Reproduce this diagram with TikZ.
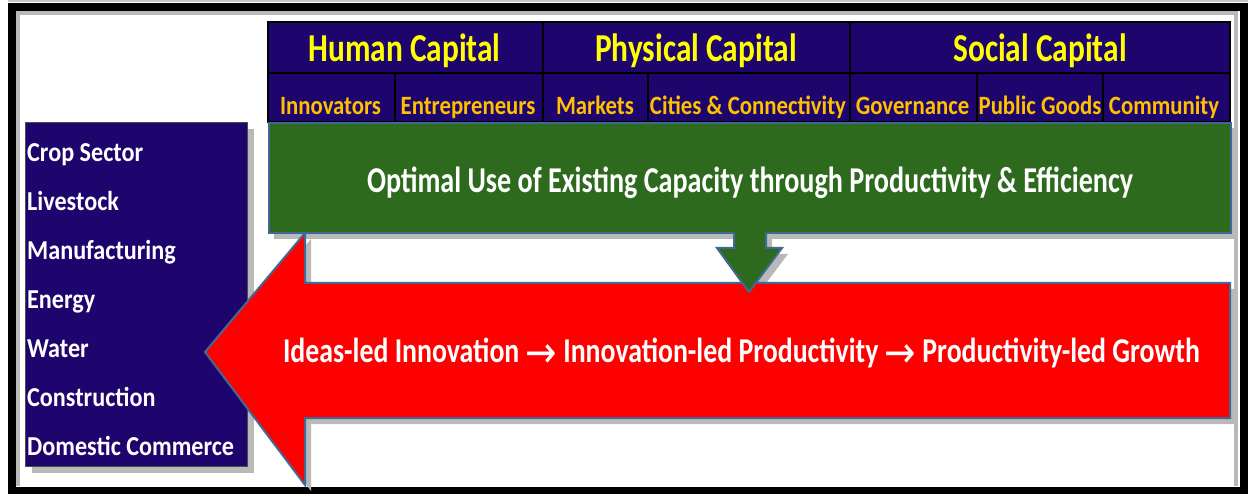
\documentclass[tikz,border=0pt]{standalone}
\usepackage{fontspec}
\setmainfont{Carlito}
\newfontfamily\arrowfont{DejaVu Sans}
\usepackage{graphicx}
\definecolor{navy}{RGB}{30,5,110}
\definecolor{hdryellow}{RGB}{255,255,0}
\definecolor{subgold}{RGB}{255,192,0}
\definecolor{grn}{RGB}{46,106,30}
\definecolor{outl}{RGB}{65,105,150}
\definecolor{shadowgray}{RGB}{185,185,185}
\newlength\tmpw
\newcommand\fitsize[3]{\settowidth\tmpw{\fontsize{10pt}{12pt}\selectfont\bfseries #3}\pgfmathsetmacro#1{10*#2/\tmpw}}
\newcommand\vtxt[2]{\scalebox{1}[#1]{#2}}
\newcommand\arr{\raisebox{-0.14em}{\scalebox{1.35}[1.25]{\arrowfont\mdseries\char"2192}}}
\begin{document}
\fitsize{\hs}{192}{Human Capital}%
\pgfmathsetmacro\hv{25/(0.632*\hs)}%
\fitsize{\ss}{101}{Innovators}%
\pgfmathsetmacro\sv{16.7/(0.632*\ss)}%
\fitsize{\gs}{766}{Optimal Use of Existing Capacity through Productivity \& Efficiency}%
\pgfmathsetmacro\gv{23/(0.632*\gs)}%
\fitsize{\rs}{917}{Ideas-led Innovation \arr{} Innovation-led Productivity \arr{} Productivity-led Growth}%
\pgfmathsetmacro\rv{22/(0.632*\rs)}%
\fitsize{\ls}{207}{Domestic Commerce}%
\pgfmathsetmacro\lv{17.3/(0.632*\ls)}%
\begin{tikzpicture}[x=1pt,y=-1pt]
\tikzset{
  hdr/.style={anchor=base, inner sep=0pt, text=hdryellow, font=\fontsize{\hs pt}{\hs pt}\selectfont\bfseries},
  sub/.style={anchor=base, inner sep=0pt, text=subgold, font=\fontsize{\ss pt}{\ss pt}\selectfont\bfseries},
  lst/.style={anchor=base west, inner sep=0pt, text=white, font=\fontsize{\ls pt}{\ls pt}\selectfont\bfseries},
  shadow/.style={fill=shadowgray, draw=none},
  cellline/.style={draw=black, line width=1.5pt},
  arrowshape/.style={draw=outl, line width=2pt, line join=miter},
}
\def\redarrow{(1230,283) -- (1230,418) -- (305,418) -- (305,485) -- (205,352) -- (305,233) -- (305,283) -- cycle}
\def\downarrow{(734,231) -- (766,231) -- (766,248) -- (782,248) -- (749,292) -- (717,248) -- (734,248) -- cycle}
\useasboundingbox (0,0) rectangle (1248,494);
\fill[white] (0,0) rectangle (1248,494);
% outer frame
\draw[gray!45, line width=2pt] (8,1.5) -- (1248,1.5);
\draw[black, line width=8pt] (12,7) rectangle (1244,490.5);
\draw[shadowgray, line width=4pt] (18,486) -- (18,13) -- (1236,13) -- (1236,486);
% shadows
\fill[shadow] (32,129) rectangle (254,473);
\fill[shadow] (274,128) rectangle (1237,239);
\begin{scope}[shift={(6,6)}]
\fill[shadow] \redarrow;
\fill[shadow] \downarrow;
\end{scope}
% left sector box
\node[draw=black!70, line width=1pt, fill=navy, minimum width=222pt, minimum height=344pt, inner sep=0pt, anchor=north west] (sect) at (25,122) {};
\node[lst] (crop) at (27,161.7) {\vtxt{\lv}{Crop Sector}};
\node[lst] (live) at (27,210.7) {\vtxt{\lv}{Livestock}};
\node[lst] (manu) at (27,259.7) {\vtxt{\lv}{Manufacturing}};
\node[lst] (ener) at (27,308.7) {\vtxt{\lv}{Energy}};
\node[lst] (watr) at (27,357.7) {\vtxt{\lv}{Water}};
\node[lst] (cons) at (27,406.7) {\vtxt{\lv}{Construction}};
\node[lst] (dome) at (27,455.7) {\vtxt{\lv}{Domestic Commerce}};
% red arrow
\fill[red] \redarrow;
\draw[arrowshape] \redarrow;
\node[anchor=base, inner sep=0pt, text=white, font=\fontsize{\rs pt}{\rs pt}\selectfont\bfseries] (growth) at (741.5,362.3) {\vtxt{\rv}{Ideas-led Innovation \arr{} Innovation-led Productivity \arr{} Productivity-led Growth}};
% header table
\fill[navy] (268,22) rectangle (1230,122);
\draw[cellline] (268,22) rectangle (1230,122);
\draw[cellline] (268,73) -- (1230,73);
\draw[cellline] (543,22) -- (543,122);
\draw[cellline] (850,22) -- (850,122);
\draw[cellline] (395,73) -- (395,122);
\draw[cellline] (648,73) -- (648,122);
\draw[cellline] (977,73) -- (977,122);
\draw[cellline] (1103,73) -- (1103,122);
\node[hdr] (hum) at (404.5,61.7) {\vtxt{\hv}{Human Capital}};
\node[hdr] (phy) at (696,61.7) {\vtxt{\hv}{Physical Capital}};
\node[hdr] (soc) at (1040,61.7) {\vtxt{\hv}{Social Capital}};
\node[sub] (inno) at (330.5,114.3) {\vtxt{\sv}{Innovators}};
\node[sub] (entr) at (468,114.3) {\vtxt{\sv}{Entrepreneurs}};
\node[sub] (mark) at (595,114.3) {\vtxt{\sv}{Markets}};
\node[sub] (city) at (748,114.3) {\vtxt{\sv}{Cities \& Connectivity}};
\node[sub] (gov) at (912.5,114.3) {\vtxt{\sv}{Governance}};
\node[sub] (pub) at (1040,114.3) {\vtxt{\sv}{Public Goods}};
\node[sub] (comm) at (1164,114.3) {\vtxt{\sv}{Community}};
% green box
\node[draw=outl, line width=2pt, fill=grn, minimum width=962pt, minimum height=110pt, inner sep=0pt, anchor=north west] (opt) at (268,122) {};
\node[anchor=base, inner sep=0pt, text=white, font=\fontsize{\gs pt}{\gs pt}\selectfont\bfseries] (optt) at (750,192.3) {\vtxt{\gv}{Optimal Use of Existing Capacity through Productivity \& Efficiency}};
% down arrow
\fill[grn] \downarrow;
\draw[arrowshape] (734,233) -- (734,248) -- (717,248) -- (749,292) -- (782,248) -- (766,248) -- (766,233);
\end{tikzpicture}
\end{document}
